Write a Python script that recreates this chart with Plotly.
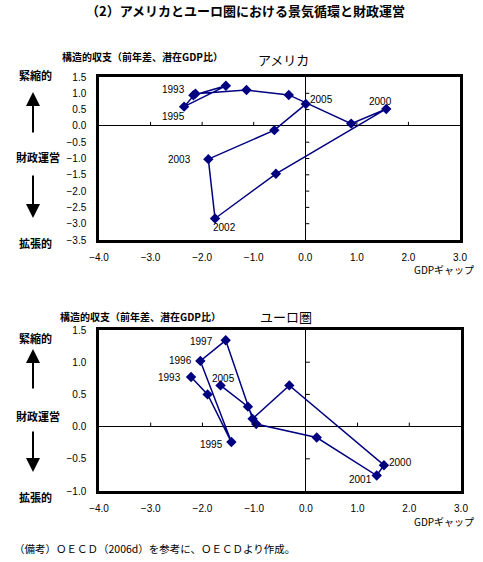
import plotly.graph_objects as go

W, H = 483, 562

years = ["1993", "1994", "1995", "1996", "1997", "1998", "1999",
         "2000", "2001", "2002", "2003", "2004", "2005"]

us_gap = [-2.17, -1.54, -2.35, -2.13, -1.14, -0.32, 0.89,
          1.57, -0.57, -1.75, -1.88, -0.60, 0.01]
us_bal = [0.94, 1.23, 0.59, 0.99, 1.10, 0.95, 0.07,
          0.52, -1.47, -2.84, -1.02, -0.13, 0.67]

eu_gap = [-2.22, -1.90, -1.44, -2.04, -1.55, -1.03, -0.32,
          1.51, 1.37, 0.21, -0.96, -1.12, -1.65]
eu_bal = [0.77, 0.50, -0.24, 1.02, 1.34, 0.12, 0.64,
          -0.60, -0.76, -0.17, 0.04, 0.31, 0.64]

us_labels = {"1993": (-20, 6), "1995": (-11, -10), "2005": (16, 5),
             "2000": (-6, 7), "2003": (-29, 0), "2002": (9, -9)}
eu_labels = {"1997": (-24, -1), "1996": (-20, 0), "1993": (-22, 0),
             "2005": (3, 7), "1995": (-20, -2), "2000": (17, 3),
             "2001": (-16, -4)}

x_ticks = [-4.0, -3.0, -2.0, -1.0, 0.0, 1.0, 2.0, 3.0]
us_y_ticks = [1.5, 1.0, 0.5, 0.0, -0.5, -1.0, -1.5, -2.0, -2.5, -3.0, -3.5]
eu_y_ticks = [1.5, 1.0, 0.5, 0.0, -0.5, -1.0]

NAVY = "#000080"
JP = "Noto Sans CJK JP"
NUM = "Liberation Sans, Arial"

fig = go.Figure()

def px_x(p):
    return p / W

def px_y(p):
    return 1 - p / H

for xa, ya, gx, gy in [("x", "y", us_gap, us_bal), ("x2", "y2", eu_gap, eu_bal)]:
    fig.add_trace(go.Scatter(
        x=gx, y=gy, xaxis=xa, yaxis=ya, mode="lines+markers",
        line=dict(color=NAVY, width=1.5),
        marker=dict(symbol="diamond", size=8, color=NAVY),
        showlegend=False, hoverinfo="skip"))

axis_common = dict(showgrid=False, zeroline=True, zerolinecolor="black",
                   zerolinewidth=1, showline=True, linecolor="black",
                   linewidth=2.5, mirror=True, ticks="", automargin=False,
                   tickfont=dict(family=NUM, size=10, color="black"),
                   tickformat=".1f")

fig.update_layout(
    width=W, height=H, margin=dict(l=0, r=0, t=0, b=0, autoexpand=False),
    paper_bgcolor="white", plot_bgcolor="white",
    xaxis=dict(domain=[px_x(99), px_x(460)], range=[-4, 3],
               tickvals=x_ticks, anchor="y", ticklabelstandoff=6, **axis_common),
    yaxis=dict(domain=[px_y(240), px_y(77)], range=[-3.5, 1.5],
               tickvals=us_y_ticks, anchor="x", ticklabelstandoff=8, **axis_common),
    xaxis2=dict(domain=[px_x(99), px_x(461)], range=[-4, 3],
                tickvals=x_ticks, anchor="y2", ticklabelstandoff=6, **axis_common),
    yaxis2=dict(domain=[px_y(491), px_y(330)], range=[-1, 1.5],
                tickvals=eu_y_ticks, anchor="x2", ticklabelstandoff=8, **axis_common),
)

# short tick marks on the zero lines
shapes = []
for xr, yr, yt in [("x", "y", us_y_ticks), ("x2", "y2", eu_y_ticks)]:
    for t in x_ticks:
        if t in (-4.0, 0.0, 3.0):
            continue
        shapes.append(dict(type="line", xref=xr, yref=yr, x0=t, x1=t,
                           ysizemode="pixel", yanchor=0, y0=0, y1=4,
                           line=dict(color="black", width=1)))
    for t in yt:
        if t == 0.0 or t == yt[0] or t == yt[-1]:
            continue
        shapes.append(dict(type="line", xref=xr, yref=yr, y0=t, y1=t,
                           xsizemode="pixel", xanchor=0, x0=0, x1=4,
                           line=dict(color="black", width=1)))
fig.update_layout(shapes=shapes)

ann = []
for xr, yr, gx, gy, labs in [("x", "y", us_gap, us_bal, us_labels),
                             ("x2", "y2", eu_gap, eu_bal, eu_labels)]:
    for yv, (dx, dy) in labs.items():
        i = years.index(yv)
        ann.append(dict(x=gx[i], y=gy[i], xref=xr, yref=yr, text=yv,
                        showarrow=False, xshift=dx, yshift=dy,
                        font=dict(family=NUM, size=10, color="black")))

def ptext(x, y, text, size, family=JP, xanchor="center", weight="normal"):
    ann.append(dict(x=px_x(x), y=px_y(y), xref="paper", yref="paper",
                    text=text, showarrow=False, xanchor=xanchor,
                    yanchor="middle",
                    font=dict(family=family, size=size, color="black",
                              weight=weight)))

ptext(246, 11, "（2）アメリカとユーロ圏における景気循環と財政運営", 13, weight="bold")
ptext(60, 57, "構造的収支（前年差、潜在GDP比）", 10, xanchor="left", weight="bold")
ptext(283, 60, "アメリカ", 13)
ptext(476, 269, "GDPギャップ", 10, xanchor="right")
ptext(58, 316, "構造的収支（前年差、潜在GDP比）", 10, xanchor="left", weight="bold")
ptext(286, 316, "ユーロ圏", 13)
ptext(476, 521, "GDPギャップ", 10, xanchor="right")
ptext(12, 548, "（備考）ＯＥＣＤ（2006d）を参考に、ＯＥＣＤより作成。", 10.5,
      xanchor="left")

for (y1, y2, y3, a_top, a_bot, d_top, d_bot) in [
        (75, 157, 243, 92, 134, 174, 218),
        (338, 416, 497, 349, 390, 430, 472)]:
    ptext(35, y1, "緊縮的", 11, weight="bold")
    ptext(38, y2, "財政運営", 11, weight="bold")
    ptext(35, y3, "拡張的", 11, weight="bold")
    ann.append(dict(x=px_x(33), y=px_y(a_top), xref="paper", yref="paper",
                    ax=0, ay=a_bot - a_top, text="", showarrow=True,
                    arrowhead=2, arrowsize=1.4, arrowwidth=2,
                    arrowcolor="black"))
    ann.append(dict(x=px_x(33), y=px_y(d_bot), xref="paper", yref="paper",
                    ax=0, ay=-(d_bot - d_top), text="", showarrow=True,
                    arrowhead=2, arrowsize=1.4, arrowwidth=2,
                    arrowcolor="black"))

fig.update_layout(annotations=ann)

fig.write_html("out.html")
